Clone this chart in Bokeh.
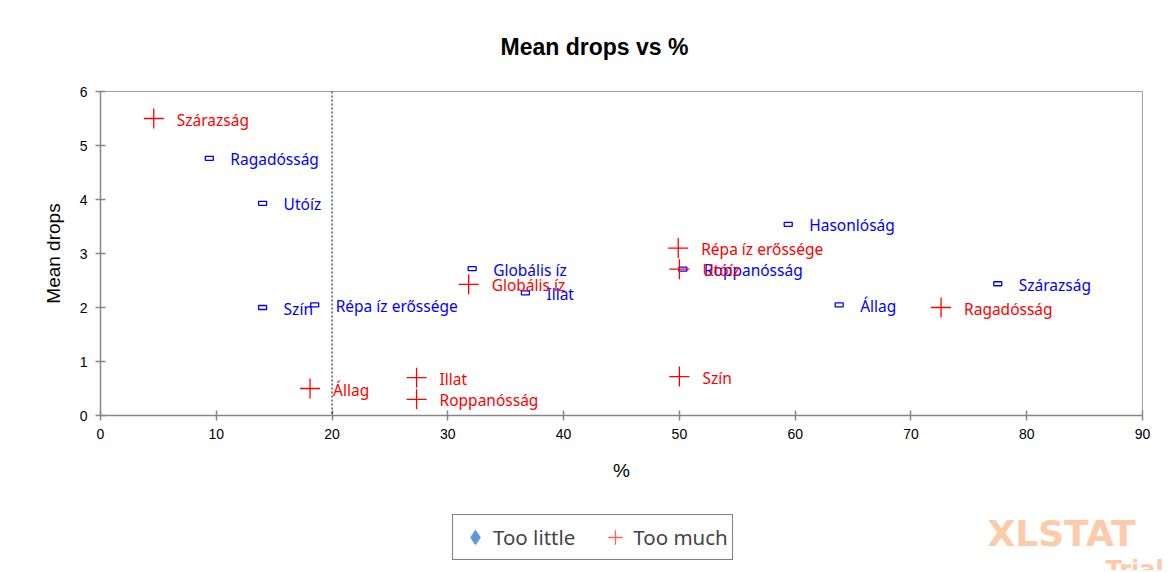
from bokeh.plotting import figure
from bokeh.layouts import column
from bokeh.models import Span, Legend, LegendItem, Label, ColumnDataSource, FixedTicker, Range1d
from bokeh.core.properties import value
from bokeh.embed import file_html
from bokeh.resources import INLINE

# ---- data ----
little_labels = ["Ragadósság", "Utóíz", "Szín", "Répa íz erőssége", "Globális íz",
                 "Illat", "Roppanósság", "Hasonlóság", "Állag", "Szárazság"]
little_x = [9.4, 14.0, 14.0, 18.5, 32.1, 36.7, 50.3, 59.4, 63.8, 77.5]
little_y = [4.76, 3.93, 2.0, 2.05, 2.72, 2.27, 2.71, 3.54, 2.05, 2.44]

much_labels = ["Szárazság", "Állag", "Illat", "Roppanósság", "Globális íz",
               "Répa íz erőssége", "Utóíz", "Szín", "Ragadósság"]
much_x = [4.6, 18.1, 27.3, 27.3, 31.8, 49.9, 50.0, 50.0, 72.6]
much_y = [5.5, 0.5, 0.7, 0.3, 2.43, 3.1, 2.71, 0.72, 2.0]

x_ticks = [0, 10, 20, 30, 40, 50, 60, 70, 80, 90]
y_ticks = [0, 1, 2, 3, 4, 5, 6]
threshold = 20
series_names = ["Too little", "Too much"]
chart_title = "Mean drops vs %"

LABEL_FONT = "Noto Sans"
AXIS_FONT = "Liberation Sans"
W = 1165
TOP_H = 70
BOT_H = 80


def strip(h):
    f = figure(width=W, height=h, output_backend="svg", toolbar_location=None,
               x_range=Range1d(0, W), y_range=Range1d(0, h), title=None,
               min_border_left=0, min_border_right=0, min_border_top=0, min_border_bottom=0)
    f.frame_align = False
    f.axis.visible = False
    f.grid.visible = False
    f.outline_line_color = None
    return f


# ---- title strip ----
t = strip(TOP_H)
t.add_layout(Label(x=594, y=TOP_H - 46, text=chart_title, text_align="center",
                   text_baseline="middle", text_font=AXIS_FONT, text_font_size="23px",
                   text_font_style="bold", text_color="black"))

# ---- main plot ----
p = figure(width=W, height=91 - TOP_H + 324 + 75, output_backend="svg", toolbar_location=None,
           x_range=Range1d(0, 90), y_range=Range1d(0, 6), title=None,
           min_border_left=100, min_border_right=23, min_border_top=91 - TOP_H,
           min_border_bottom=75)

p.grid.visible = False
p.outline_line_color = "#A0A0A0"
p.outline_line_width = 1

for ax in (p.xaxis[0], p.yaxis[0]):
    ax.axis_line_color = "#868686"
    ax.axis_line_width = 1.5
    ax.major_tick_line_color = "#868686"
    ax.major_tick_line_width = 1.5
    ax.major_tick_in = 5
    ax.major_tick_out = 5
    ax.minor_tick_line_color = None
    ax.major_label_text_font = AXIS_FONT
    ax.major_label_text_font_size = "14px"
    ax.major_label_text_color = "black"
    ax.axis_label_text_font = AXIS_FONT
    ax.axis_label_text_font_size = "19px"
    ax.axis_label_text_font_style = "normal"
    ax.axis_label_text_color = "black"

p.xaxis.ticker = FixedTicker(ticks=x_ticks)
p.yaxis.ticker = FixedTicker(ticks=y_ticks)
p.xaxis.axis_label = "%"
p.yaxis.axis_label = "Mean drops"
p.xaxis.major_label_standoff = 8
p.yaxis.major_label_standoff = 8
p.xaxis.axis_label_standoff = 18
p.yaxis.axis_label_standoff = 13

p.add_layout(Span(location=threshold, dimension="height", line_color="black",
                  line_dash="2 2", line_width=1))

src_l = ColumnDataSource(dict(x=little_x, y=little_y, t=little_labels))
src_m = ColumnDataSource(dict(x=much_x, y=much_y, t=much_labels))

p.rect(x="x", y="y", width=8, height=4, width_units="screen", height_units="screen",
       source=src_l, fill_color="white", line_color="#0000FF", line_width=1.3)
p.scatter(x="x", y="y", source=src_m, marker="cross", size=20,
          line_color="#FF0000", line_width=1.3)

p.text(x="x", y="y", text="t", source=src_l, x_offset=21, y_offset=1,
       text_baseline="middle", text_align="left", text_color="#0000FF",
       text_font=value(LABEL_FONT), text_font_size="15.5px")
p.text(x="x", y="y", text="t", source=src_m, x_offset=23, y_offset=1,
       text_baseline="middle", text_align="left", text_color="#FF0000",
       text_font=value(LABEL_FONT), text_font_size="15.5px")

# ---- legend strip ----
q = strip(BOT_H)

# off-screen dummy renderers, only used to draw the legend swatches
r1 = q.scatter(x=[-1000], y=[-1000], marker="diamond", size=16,
               fill_color="#5B9BD5", line_color="#5B9BD5")
r2 = q.scatter(x=[-1000], y=[-1000], marker="cross", size=16,
               line_color="#FF6060", line_width=1.3)
legend = Legend(items=[LegendItem(label=series_names[0], renderers=[r1]),
                       LegendItem(label=series_names[1], renderers=[r2])],
                orientation="horizontal", location=(452, 10),
                label_text_font=LABEL_FONT, label_text_font_size="20.5px",
                border_line_color="black", border_line_width=1,
                glyph_width=36, glyph_height=36, label_standoff=0, spacing=22,
                label_height=36, padding=4, margin=0, background_fill_alpha=1)
q.add_layout(legend, "center")

q.add_layout(Label(x=987, y=17, text="XLSTAT", text_color="#FDCBA9",
                   text_font="DejaVu Sans", text_font_size="36px", text_font_style="bold"))
q.add_layout(Label(x=1105, y=15, text="Trial", text_color="#FDCBA9", text_baseline="top",
                   text_font="DejaVu Sans", text_font_size="24px", text_font_style="bold"))

layout = column(t, p, q, spacing=0)
open("out.html", "w").write(file_html(layout, INLINE))
